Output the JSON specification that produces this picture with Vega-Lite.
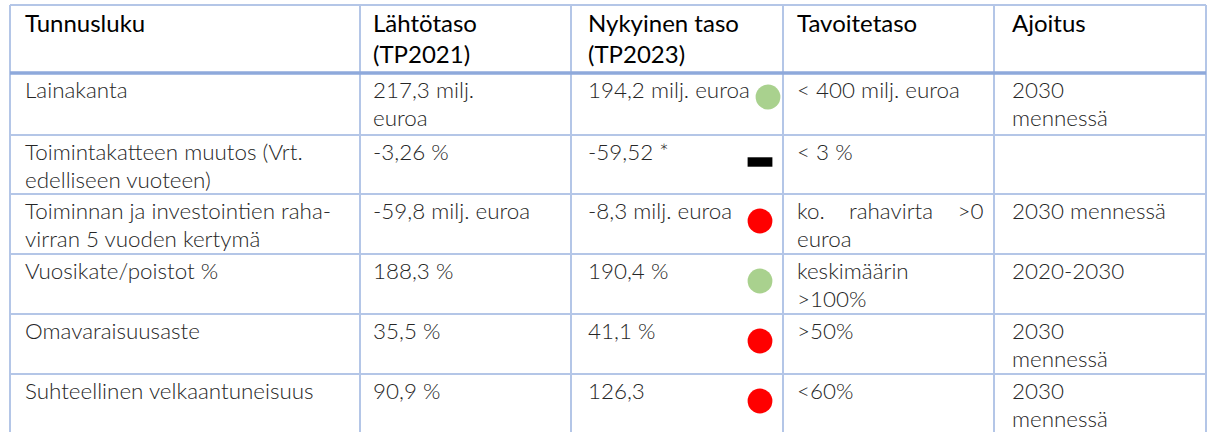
{
  "$schema": "https://vega.github.io/schema/vega-lite/v6.json",
  "width": 1211,
  "height": 432,
  "padding": 0,
  "autosize": "none",
  "background": "#ffffff",
  "config": {"view": {"stroke": null}},
  "datasets": {
    "cells": [
      {"r": 0, "c": 0, "text": "Tunnusluku"},
      {"r": 0, "c": 1, "text": "Lähtötaso\n(TP2021)"},
      {"r": 0, "c": 2, "text": "Nykyinen taso\n(TP2023)"},
      {"r": 0, "c": 3, "text": "Tavoitetaso"},
      {"r": 0, "c": 4, "text": "Ajoitus"},
      {"r": 1, "c": 0, "text": "Lainakanta"},
      {"r": 1, "c": 1, "text": "217,3 milj.\neuroa"},
      {"r": 1, "c": 2, "text": "194,2 milj. euroa"},
      {"r": 1, "c": 3, "text": "< 400 milj. euroa"},
      {"r": 1, "c": 4, "text": "2030\nmennessä"},
      {"r": 2, "c": 0, "text": "Toimintakatteen muutos (Vrt.\nedelliseen vuoteen)"},
      {"r": 2, "c": 1, "text": "-3,26 %"},
      {"r": 2, "c": 2, "text": "-59,52 *"},
      {"r": 2, "c": 3, "text": "< 3 %"},
      {"r": 3, "c": 0, "text": "Toiminnan ja investointien raha-\nvirran 5 vuoden kertymä"},
      {"r": 3, "c": 1, "text": "-59,8 milj. euroa"},
      {"r": 3, "c": 2, "text": "-8,3 milj. euroa"},
      {"r": 3, "c": 3, "text": "ko.\u00a0\u00a0\u00a0\u00a0rahavirta\u00a0\u00a0\u00a0\u00a0>0\neuroa"},
      {"r": 3, "c": 4, "text": "2030 mennessä"},
      {"r": 4, "c": 0, "text": "Vuosikate/poistot %"},
      {"r": 4, "c": 1, "text": "188,3 %"},
      {"r": 4, "c": 2, "text": "190,4 %"},
      {"r": 4, "c": 3, "text": "keskimäärin\n>100%"},
      {"r": 4, "c": 4, "text": "2020-2030"},
      {"r": 5, "c": 0, "text": "Omavaraisuusaste"},
      {"r": 5, "c": 1, "text": "35,5 %"},
      {"r": 5, "c": 2, "text": "41,1 %"},
      {"r": 5, "c": 3, "text": ">50%"},
      {"r": 5, "c": 4, "text": "2030\nmennessä"},
      {"r": 6, "c": 0, "text": "Suhteellinen velkaantuneisuus"},
      {"r": 6, "c": 1, "text": "90,9 %"},
      {"r": 6, "c": 2, "text": "126,3"},
      {"r": 6, "c": 3, "text": "<60%"},
      {"r": 6, "c": 4, "text": "2030\nmennessä"}
    ],
    "markers": [
      {"r": 1, "status": "ok"},
      {"r": 2, "status": "neutral"},
      {"r": 3, "status": "bad"},
      {"r": 4, "status": "ok"},
      {"r": 5, "status": "bad"},
      {"r": 6, "status": "bad"}
    ]
  },
  "resolve": {"scale": {"x": "independent"}},
  "layer": [
    {
      "data": {"values": [{"c": 0}, {"c": 1}, {"c": 2}, {"c": 3}, {"c": 4}, {"c": 5}]},
      "mark": {"type": "rule", "color": "#B4C6E7", "strokeWidth": 2},
      "encoding": {
        "x": {"field": "c", "type": "quantitative", "axis": null, "scale": {"domain": [0, 1, 2, 3, 4, 5], "range": [10, 360, 571, 783, 994, 1206], "zero": false, "nice": false}},
        "y": {"datum": 0, "type": "quantitative", "axis": null, "scale": {"domain": [0, 1, 2, 3, 4, 5, 6, 7], "range": [5, 73, 135, 194, 254, 314, 374, 434], "zero": false, "nice": false}},
        "y2": {"datum": 7}
      }
    },
    {
      "data": {"values": [{"r": 0}, {"r": 2}, {"r": 3}, {"r": 4}, {"r": 5}, {"r": 6}]},
      "mark": {"type": "rule", "color": "#B4C6E7", "strokeWidth": 2},
      "encoding": {
        "y": {"field": "r", "type": "quantitative", "axis": null},
        "x": {"datum": 0, "type": "quantitative", "axis": null, "scale": {"domain": [0, 1, 2, 3, 4, 5], "range": [10, 360, 571, 783, 994, 1206], "zero": false, "nice": false}},
        "x2": {"datum": 5}
      }
    },
    {
      "data": {"values": [{"r": 1}]},
      "mark": {"type": "rule", "color": "#8EA9DB", "strokeWidth": 3.5},
      "encoding": {
        "y": {"field": "r", "type": "quantitative", "axis": null},
        "x": {"datum": 0, "type": "quantitative", "axis": null, "scale": {"domain": [0, 1, 2, 3, 4, 5], "range": [10, 360, 571, 783, 994, 1206], "zero": false, "nice": false}},
        "x2": {"datum": 5}
      }
    },
    {
      "data": {"name": "cells"},
      "transform": [{"filter": "datum.r == 0"}],
      "mark": {"type": "text", "align": "left", "baseline": "alphabetic", "dy": 27, "lineBreak": "\n", "lineHeight": 31, "font": "Lato", "fontSize": 24, "color": "#000000"},
      "encoding": {
        "x": {"field": "c", "type": "quantitative", "axis": null, "scale": {"domain": [0, 1, 2, 3, 4], "range": [25, 373, 588, 797, 1012], "zero": false, "nice": false}},
        "y": {"field": "r", "type": "quantitative", "axis": null},
        "text": {"field": "text"}
      }
    },
    {
      "data": {"name": "cells"},
      "transform": [{"filter": "datum.r > 0"}],
      "mark": {"type": "text", "align": "left", "baseline": "alphabetic", "dy": 25, "lineBreak": "\n", "lineHeight": 28, "font": "Lato", "fontSize": 22.4, "fontWeight": 300, "color": "#262626"},
      "encoding": {
        "x": {"field": "c", "type": "quantitative", "axis": null, "scale": {"domain": [0, 1, 2, 3, 4], "range": [25, 373, 588, 797, 1012], "zero": false, "nice": false}},
        "y": {"field": "r", "type": "quantitative", "axis": null},
        "text": {"field": "text"}
      }
    },
    {
      "data": {"name": "markers"},
      "transform": [{"filter": "datum.r == 1"}],
      "mark": {"type": "point", "filled": true, "opacity": 1, "xOffset": -15, "yOffset": 24},
      "encoding": {
        "x": {"datum": 3, "type": "quantitative", "axis": null, "scale": {"domain": [0, 1, 2, 3, 4, 5], "range": [10, 360, 571, 783, 994, 1206], "zero": false, "nice": false}},
        "y": {"field": "r", "type": "quantitative", "axis": null},
        "color": {"field": "status", "type": "nominal", "legend": null, "scale": {"domain": ["ok", "bad", "neutral"], "range": ["#A9D18E", "#FF0000", "#000000"]}},
        "shape": {"field": "status", "type": "nominal", "legend": null, "scale": {"domain": ["ok", "bad", "neutral"], "range": ["circle", "circle", "M-1,-0.38H1V0.38H-1Z"]}},
        "size": {"field": "status", "type": "nominal", "legend": null, "scale": {"domain": ["ok", "bad", "neutral"], "range": [615, 615, 841]}}
      }
    },
    {
      "data": {"name": "markers"},
      "transform": [{"filter": "datum.r > 1"}],
      "mark": {"type": "point", "filled": true, "opacity": 1, "xOffset": -23, "yOffset": 27},
      "encoding": {
        "x": {"datum": 3, "type": "quantitative", "axis": null, "scale": {"domain": [0, 1, 2, 3, 4, 5], "range": [10, 360, 571, 783, 994, 1206], "zero": false, "nice": false}},
        "y": {"field": "r", "type": "quantitative", "axis": null},
        "color": {"field": "status", "type": "nominal", "legend": null},
        "shape": {"field": "status", "type": "nominal", "legend": null},
        "size": {"field": "status", "type": "nominal", "legend": null}
      }
    }
  ]
}
